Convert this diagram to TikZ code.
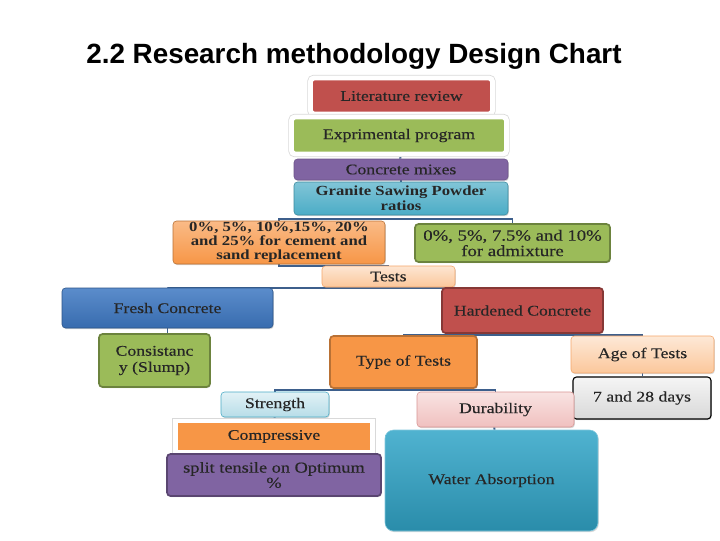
\documentclass[tikz,border=0pt]{standalone}
\usepackage{fontspec}
\setmainfont[FakeStretch=1.2, UprightFeatures={FakeBold=0.3}]{Liberation Serif}
\setsansfont{Liberation Sans}
\usetikzlibrary{shadows,backgrounds}
\definecolor{litred}{HTML}{C0504D}
\definecolor{expgreen}{HTML}{9BBB59}
\definecolor{mixpurple}{HTML}{8064A2}
\definecolor{gspteal}{HTML}{4BACC6}
\definecolor{replorange}{HTML}{F79646}
\definecolor{peach}{HTML}{FBC79B}
\definecolor{peachdark}{HTML}{F5A66A}
\definecolor{freshblue}{HTML}{3E78C2}
\definecolor{cyanlight}{HTML}{B7DDE8}
\definecolor{pinklight}{HTML}{F0C0BF}
\definecolor{pinkdark}{HTML}{D99694}
\definecolor{waterteal}{HTML}{31A5C8}
\definecolor{linkblue}{HTML}{3D5F8C}
\tikzset{
  box/.style={rectangle, rounded corners=2.5pt, align=center, inner sep=0.5pt, text=black!85,
    font=\fontsize{10.5}{11.5}\selectfont, drop shadow={shadow xshift=0.6pt, shadow yshift=-0.8pt, opacity=0.3}},
  sz/.style 2 args={minimum width=#1*0.025cm, minimum height=#2*0.025cm},
  framed/.style={draw=white, line width=3.5pt, preaction={draw=gray!30, line width=4.6pt}},
  link/.style={draw=linkblue, line width=1.4pt},
}
\begin{document}
\begin{tikzpicture}[x=0.025cm, y=-0.025cm]
  \useasboundingbox (0,0) rectangle (720,540);
  \node[font=\sffamily\bfseries\fontsize{19.8}{22}\selectfont, anchor=base west, inner sep=0] (title) at (86,63.5) {2.2 Research methodology Design Chart};
  \node[box, framed, fill=litred, sz={182}{36}] (lit) at (401.5,96) {Literature review};
  \node[box, framed, fill=expgreen, sz={215}{37}] (exp) at (399,135.5) {Exprimental program};
  \node[box, fill=mixpurple, draw=mixpurple!85!black, sz={214}{21}] (mix) at (401,169.5) {Concrete mixes};
  \node[box, top color=gspteal!70!white, bottom color=gspteal, draw=gspteal!80!black, sz={214}{33},
    font=\bfseries\fontsize{9.9}{10.8}\selectfont] (gsp) at (401,198.5) {Granite Sawing Powder\\ratios};
  \node[box, top color=replorange!65!white, bottom color=replorange, draw=replorange!75!black, sz={212}{43},
    font=\bfseries\fontsize{9.9}{10}\selectfont] (repl) at (279,242.5) {0\%, 5\%, 10\%,15\%, 20\%\\and 25\% for cement and\\sand replacement};
  \node[box, fill=expgreen, draw=expgreen!70!black, line width=1.2pt, sz={195}{38},
    font=\fontsize{11.1}{11}\selectfont] (adm) at (512.5,243) {0\%, 5\%, 7.5\% and 10\%\\for admixture};
  \node[box, top color=peach!45!white, bottom color=peach, draw=peachdark, sz={133}{21}] (tests) at (388.5,276.5) {Tests};
  \node[box, top color=freshblue!85!white, bottom color=freshblue!90!black, draw=freshblue!70!black, sz={211}{40}] (fresh) at (167.5,308) {Fresh Concrete};
  \node[box, fill=litred, draw=litred!70!black, line width=1.2pt, sz={161}{45}] (hard) at (522.5,310.5) {Hardened Concrete};
  \node[box, fill=expgreen, draw=expgreen!70!black, line width=1.2pt, sz={111}{53}] (cons) at (154.5,360.5) {Consistanc\\y (Slump)};
  \node[box, fill=replorange, draw=replorange!75!black, line width=1.2pt, sz={147}{52}] (type) at (403.5,362) {Type of Tests};
  \node[box, top color=peach!40!white, bottom color=peach, draw=peachdark, sz={143}{37}] (age) at (642.5,354.5) {Age of Tests};
  \node[box, top color=gray!8, bottom color=gray!30, draw=black, line width=0.8pt, sz={138}{42}] (days) at (642,398) {7 and 28 days};
  \node[box, top color=cyanlight!40!white, bottom color=cyanlight, draw=gspteal, sz={108}{25}] (strength) at (275,404.5) {Strength};
  \node[box, top color=pinklight!45!white, bottom color=pinklight, draw=pinkdark, sz={157}{35}] (dur) at (495.5,409.5) {Durability};
  \node[box, framed, rounded corners=0pt, fill=replorange, sz={197}{31}] (comp) at (274,436.5) {Compressive};
  \node[box, fill=mixpurple, draw=mixpurple!70!black, line width=1.2pt, sz={214}{42},
    font=\fontsize{10.85}{10.8}\selectfont] (split) at (274,475) {split tensile on Optimum\\\%};
  \node[box, top color=waterteal!85!white, bottom color=waterteal!85!black, draw=waterteal!60!white,
    rounded corners=6pt, sz={213}{101}] (water) at (491.5,480.5) {Water Absorption};
  \begin{pgfonlayer}{background}
    \fill[white] (0,0) rectangle (720,540);
    \draw[link] (lit) -- (exp);
    \draw[link] (exp) -- (mix);
    \draw[link] (mix) -- (gsp);
    \draw[link] (repl.north) |- ([yshift=-2.5pt]gsp.south) -| (adm.north);
    \draw[link] (repl.south) |- (tests.north);
    \draw[link] (fresh.north) |- ([yshift=-0.5pt]tests.south) -| (hard.north);
    \draw[link] (fresh.south) -- (fresh.south |- cons.north);
    \draw[link] (type.north) |- ([yshift=-0.5pt]hard.south) -| (age.north);
    \draw[link] (age.south) -- (age.south |- days.north);
    \draw[link] (strength.north) |- ([yshift=-1pt]type.south) -| (dur.north);
    \draw[link] (strength) -- (comp);
    \draw[link] (comp) -- (split);
    \draw[link] (dur) -- (water);
  \end{pgfonlayer}
\end{tikzpicture}
\end{document}
